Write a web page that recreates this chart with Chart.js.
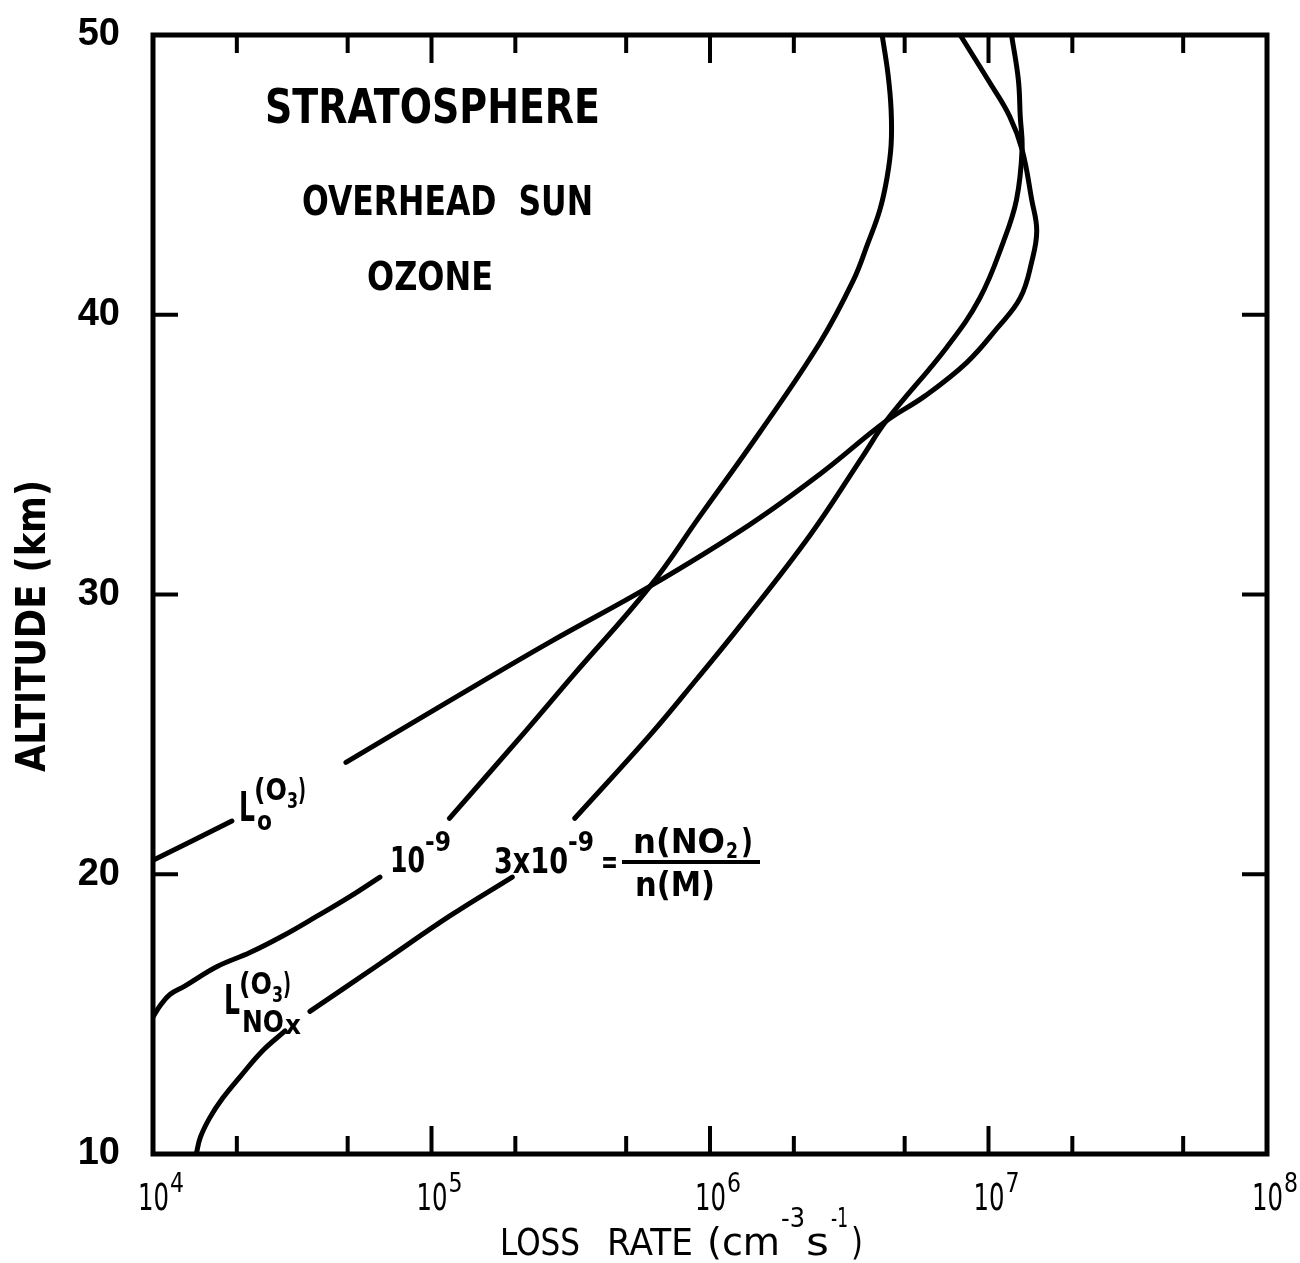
<!DOCTYPE html>
<html><head><meta charset="utf-8">
<script src="https://cdn.jsdelivr.net/npm/chart.js@4.4.0/dist/chart.umd.min.js"></script>
<style>html,body{margin:0;padding:0;background:#fff}#wrap{width:1300px;height:1263px}</style>
</head><body><div id="wrap"><canvas id="c"></canvas></div>
<script>
// ---- data (null = break in the drawn curve where a label sits) ----
const loRate = [1.00e4, 1.92e4, null, 4.93e4, 1.16e5, 2.66e5, 6.10e5, 1.39e6, 2.48e6, 4.29e6, 5.92e6, 8.37e6, 1.07e7, 1.30e7, 1.43e7, 1.49e7, 1.43e7, 1.32e7, 1.19e7, 1.01e7, 7.91e6];
const loAlt  = [20.5, 21.9, null, 24.0, 26.2, 28.3, 30.3, 32.5, 34.3, 36.2, 37.1, 38.3, 39.5, 40.6, 41.9, 43.0, 44.1, 45.9, 47.1, 48.3, 50.0];

const nox1Rate = [1.00e4, 1.06e4, 1.15e4, 1.30e4, 1.70e4, 2.23e4, 2.93e4, 3.88e4, 5.09e4, 6.53e4, null, 1.16e5, 2.17e5, 3.22e5, 6.10e5, 9.20e5, 1.51e6, 2.48e6, 3.26e6, 3.69e6, 4.07e6, 4.32e6, 4.47e6, 4.47e6, 4.36e6, 4.15e6];
const nox1Alt  = [14.9, 15.3, 15.7, 16.0, 16.7, 17.2, 17.8, 18.5, 19.2, 19.9, null, 22.0, 25.1, 27.1, 30.3, 32.8, 35.8, 39.0, 41.2, 42.56, 43.74, 44.89, 46.07, 47.32, 48.57, 50.0];

const nox3Rate = [1.43e4, 1.48e4, 1.60e4, 1.78e4, 2.05e4, 2.48e4, 2.98e4, null, 3.66e4, 6.53e4, 1.16e5, 1.95e5, null, 3.27e5, 6.10e5, 8.97e5, 1.28e6, 2.29e6, 3.54e6, 4.29e6, 7.10e6, 9.31e6, 1.13e7, 1.26e7, 1.32e7, 1.30e7, 1.28e7, 1.21e7];
const nox3Alt  = [10.0, 10.6, 11.3, 12.0, 12.75, 13.7, 14.4, null, 15.1, 16.8, 18.5, 19.9, null, 22.0, 24.98, 26.98, 28.87, 32.13, 34.95, 36.2, 38.85, 40.6, 42.6, 44.1, 45.9, 47.1, 48.4, 50.0];

const xMajor = [1e4, 1e5, 1e6, 1e7, 1e8];
const xMajorExp = ['4', '5', '6', '7', '8'];
const xMinor = [2e4, 5e4, 2e5, 5e5, 2e6, 5e6, 2e7, 5e7];
const yTickValues = [10, 20, 30, 40, 50];

const toPts = (xs, ys) => xs.map((v, i) => ({x: v, y: ys[i]}));

function txt(ctx, s, x, y, size, w, bold, align) {
  ctx.save();
  ctx.font = (bold ? 'bold ' : '') + size + 'px "DejaVu Sans"';
  const nat = ctx.measureText(s).width;
  const sx = w ? w / nat : 1;
  ctx.translate(x, y);
  ctx.scale(sx, 1);
  ctx.textAlign = align || 'left';
  ctx.textBaseline = 'alphabetic';
  ctx.fillStyle = '#000';
  ctx.fillText(s, 0, 0);
  ctx.restore();
}

const framePlugin = {
  id: 'frame',
  afterDatasetsDraw(chart) {
    const {ctx, chartArea: a, scales} = chart;
    const xs = scales.x, ys = scales.y;
    ctx.save();
    ctx.strokeStyle = '#000';
    ctx.lineWidth = 5;
    ctx.strokeRect(a.left, a.top, a.right - a.left, a.bottom - a.top);
    ctx.lineWidth = 4;
    const seg = (x1, y1, x2, y2) => { ctx.beginPath(); ctx.moveTo(x1, y1); ctx.lineTo(x2, y2); ctx.stroke(); };
    xs.ticks.forEach(t => {
      const px = xs.getPixelForValue(t.value);
      const L = t.major ? 28 : 18;
      seg(px, a.bottom, px, a.bottom - L);
      seg(px, a.top, px, a.top + L);
    });
    ys.ticks.forEach(t => {
      const py = ys.getPixelForValue(t.value);
      seg(a.left, py, a.left + 25, py);
      seg(a.right, py, a.right - 25, py);
    });
    // x tick labels 10^n
    xMajor.forEach((v, i) => {
      const px = xs.getPixelForValue(v);
      txt(ctx, '10', px - 15, a.bottom + 56, 37, 31, false);
      txt(ctx, xMajorExp[i], px + 17, a.bottom + 38, 26, 14, false);
    });
    // axis titles
    const by = a.bottom + 101;
    txt(ctx, 'LOSS', 500, by, 37, 80);
    txt(ctx, 'RATE', 607, by, 37, 86);
    txt(ctx, '(cm', 707, by, 37, 73);
    txt(ctx, '-3', 781, by - 28, 26, 24);
    txt(ctx, 's', 806, by, 37, 23);
    txt(ctx, '-1', 831, by - 28, 26, 17);
    txt(ctx, ')', 851, by, 37, 12);
    ctx.save();
    ctx.translate(45, 772);
    ctx.rotate(-Math.PI / 2);
    txt(ctx, 'ALTITUDE (km)', 0, 0, 40, 292, true);
    ctx.restore();
    // in-plot texts
    txt(ctx, 'STRATOSPHERE', 265, 123, 48, 335, true);
    txt(ctx, 'OVERHEAD  SUN', 302, 215, 41, 291, true);
    txt(ctx, 'OZONE', 367, 290, 39, 126, true);
    // L_o^(O3)
    txt(ctx, 'L', 239, 821, 40, 16, true);
    txt(ctx, '(O', 254, 800, 30, 33, true);
    txt(ctx, '3', 287, 808, 22, 11, true);
    txt(ctx, ')', 298, 800, 30, 8, true);
    txt(ctx, 'o', 257, 830, 26, 15, true);
    // 10^-9
    txt(ctx, '10', 390, 872, 36, 35, true);
    txt(ctx, '-9', 425, 851, 26, 26, true);
    // 3x10^-9 = n(NO2)/n(M)
    txt(ctx, '3x10', 494, 873, 36, 74, true);
    txt(ctx, '-9', 568, 851, 26, 26, true);
    txt(ctx, '=', 601, 873, 32, 17, true);
    ctx.lineWidth = 4;
    seg(622, 862, 760, 862);
    txt(ctx, 'n(NO', 633, 853, 33, 92, true);
    txt(ctx, '2', 726, 858, 22, 12, true);
    txt(ctx, ')', 741, 853, 33, 12, true);
    txt(ctx, 'n(M)', 635, 896, 33, 80, true);
    // L_NOx^(O3)
    txt(ctx, 'L', 224, 1014, 40, 16, true);
    txt(ctx, '(O', 239, 994, 30, 33, true);
    txt(ctx, '3', 272, 1002, 22, 11, true);
    txt(ctx, ')', 283, 994, 30, 8, true);
    txt(ctx, 'NO', 242, 1032, 31, 42, true);
    txt(ctx, 'x', 285, 1034, 26, 16, true);
    ctx.restore();
  }
};

const lineStyle = {borderColor: '#000', borderWidth: 5, pointRadius: 0, showLine: true, tension: 0.4, fill: false, spanGaps: false, borderCapStyle: 'round', borderJoinStyle: 'round'};

new Chart(document.getElementById('c'), {
  type: 'scatter',
  data: {
    datasets: [
      Object.assign({label: 'L_o(O3)', data: toPts(loRate, loAlt)}, lineStyle),
      Object.assign({label: 'L_NOx(O3) 1e-9', data: toPts(nox1Rate, nox1Alt)}, lineStyle),
      Object.assign({label: 'L_NOx(O3) 3e-9', data: toPts(nox3Rate, nox3Alt)}, lineStyle)
    ]
  },
  options: {
    responsive: true, maintainAspectRatio: false, animation: false,
    layout: {padding: {top: 35, right: 33, left: 0, bottom: 0}},
    plugins: {legend: {display: false}, tooltip: {enabled: false}},
    scales: {
      x: {
        type: 'logarithmic', min: 1e4, max: 1e8,
        grid: {display: false, drawTicks: false},
        border: {display: false},
        ticks: {display: false},
        afterBuildTicks: s => { s.ticks = xMajor.concat(xMinor).sort((p, q) => p - q).map(v => ({value: v, major: xMajor.includes(v)})); },
        afterFit: s => { s.height = 109; s.paddingLeft = 0; s.paddingRight = 0; }
      },
      y: {
        type: 'linear', min: 10, max: 50,
        grid: {display: false, drawTicks: false},
        border: {display: false},
        afterBuildTicks: s => { s.ticks = yTickValues.map(v => ({value: v})); },
        ticks: {padding: 33, color: '#000', font: {family: 'Liberation Sans', weight: 'bold', size: 38}, autoSkip: false},
        afterFit: s => { s.width = 153; s.paddingTop = 0; s.paddingBottom = 0; }
      }
    }
  },
  plugins: [framePlugin]
});
</script>
</body></html>
